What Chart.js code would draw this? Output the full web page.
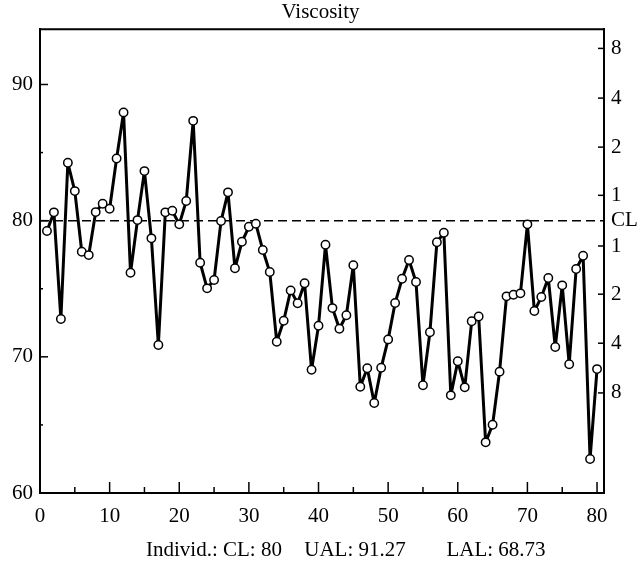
<!DOCTYPE html>
<html><head><meta charset="utf-8">
<script src="https://cdn.jsdelivr.net/npm/chart.js@4"></script>
<style>html,body{margin:0;padding:0;background:#fff}</style>
</head><body>
<canvas id="c" width="641" height="562"></canvas>
<script>
const titleText = "Viscosity";
const sampleIndex = [];
for (let i = 1; i <= 80; i++) sampleIndex.push(i);
const viscosity = [
  79.24, 80.61, 72.78, 84.25, 82.17, 77.72, 77.47, 80.63, 81.24, 80.87,
  84.57, 87.95, 76.17, 80.04, 83.64, 78.70, 70.87, 80.61, 80.73, 79.73,
  81.44, 87.33, 76.91, 75.03, 75.64, 79.97, 82.08, 76.50, 78.45, 79.55,
  79.77, 77.84, 76.23, 71.11, 72.65, 74.88, 73.93, 75.40, 69.05, 72.28,
  78.23, 73.58, 72.06, 73.05, 76.72, 67.80, 69.16, 66.61, 69.20, 71.28,
  73.95, 75.73, 77.11, 75.49, 67.91, 71.80, 78.41, 79.11, 67.17, 69.67,
  67.76, 72.61, 72.96, 63.72, 65.01, 68.91, 74.44, 74.56, 74.66, 79.73,
  73.36, 74.39, 75.79, 70.72, 75.25, 69.45, 76.45, 77.42, 62.50, 69.10
];
const centerLine = 80;
const xRange = [0, 81];
const yRange = [60, 94.06];
const xTicks = [0, 10, 20, 30, 40, 50, 60, 70, 80];
const xMinorTicks = [5, 15, 25, 35, 45, 55, 65, 75];
const yTicks = [60, 70, 80, 90];
const yMinorTicks = [65, 75, 85];
const rightTickValues = [67.35, 71.0, 74.6, 78.14, 80, 81.86, 85.4, 89.0, 92.65];
const rightTickLabels = ["8", "4", "2", "1", "CL", "1", "2", "4", "8"];
const footerLabels = ["Individ.: CL: 80", "UAL: 91.27", "LAL: 68.73"];

const FONT = "'Liberation Serif', 'Times New Roman', serif";
Chart.defaults.font.family = FONT;
Chart.defaults.color = '#000';

const points = sampleIndex.map((x, i) => ({x: x, y: viscosity[i]}));
const clLine = xRange.map(x => ({x: x, y: centerLine}));

const frameTicks = {
  id: 'frameTicks',
  afterDraw(chart) {
    const {ctx, chartArea: a, scales} = chart;
    const x = scales.x, y = scales.y, y2 = scales.y2;
    ctx.save();
    ctx.strokeStyle = '#000';
    const seg = (x1, y1, x2, y2_) => { ctx.beginPath(); ctx.moveTo(x1, y1); ctx.lineTo(x2, y2_); ctx.stroke(); };
    ctx.lineWidth = 2;
    seg(a.left - 1, a.top, a.right + 1, a.top);
    ctx.lineWidth = 1.5;
    xTicks.forEach(v => { const p = x.getPixelForValue(v); seg(p, a.bottom, p, a.bottom - 11); });
    xMinorTicks.forEach(v => { const p = x.getPixelForValue(v); seg(p, a.bottom, p, a.bottom - 6); });
    yTicks.forEach(v => { const p = y.getPixelForValue(v); seg(a.left, p, a.left + 8, p); });
    yMinorTicks.forEach(v => { const p = y.getPixelForValue(v); seg(a.left, p, a.left + 3, p); });
    rightTickValues.forEach((v, i) => { if (rightTickLabels[i] === 'CL') return; const p = y2.getPixelForValue(v); seg(a.right - 6, p, a.right, p); });
    ctx.fillStyle = '#000';
    ctx.font = '21px ' + FONT;
    ctx.textAlign = 'center';
    ctx.textBaseline = 'middle';
    const fx = [214, 355, 496];
    footerLabels.forEach((t, i) => ctx.fillText(t, fx[i], 550));
    ctx.restore();
  }
};

new Chart(document.getElementById('c'), {
  type: 'line',
  data: {
    datasets: [
      {
        data: clLine, borderColor: '#000', borderWidth: 1.5, borderDash: [9, 5],
        pointRadius: 0, pointHoverRadius: 0, fill: false, order: 2
      },
      {
        data: points, borderColor: '#000', borderWidth: 3, tension: 0,
        borderJoinStyle: 'round', borderCapStyle: 'round',
        pointRadius: 4.2, pointBackgroundColor: '#fff', pointBorderColor: '#000',
        pointBorderWidth: 1.5, fill: false, order: 1
      }
    ]
  },
  options: {
    responsive: false,
    animation: false,
    events: [],
    layout: {padding: 0},
    plugins: {
      legend: {display: false},
      tooltip: {enabled: false},
      title: {
        display: true, text: titleText, color: '#000',
        font: {family: FONT, size: 21, weight: 'normal'},
        padding: {top: 0, bottom: 4}
      }
    },
    scales: {
      x: {
        type: 'linear', position: 'bottom', min: xRange[0], max: xRange[1],
        grid: {display: false, drawTicks: false, tickLength: 0},
        border: {display: true, color: '#000', width: 2},
        ticks: {font: {size: 21}, color: '#000', padding: 11, maxRotation: 0, autoSkip: false},
        afterBuildTicks: s => { s.ticks = xTicks.map(v => ({value: v})); },
        afterFit: s => { s.height = 69; }
      },
      y: {
        type: 'linear', position: 'left', min: yRange[0], max: yRange[1],
        grid: {display: false, drawTicks: false, tickLength: 0},
        border: {display: true, color: '#000', width: 2},
        ticks: {font: {size: 21}, color: '#000', padding: 7, autoSkip: false},
        afterBuildTicks: s => { s.ticks = yTicks.map(v => ({value: v})); },
        afterFit: s => { s.width = 40; }
      },
      y2: {
        type: 'linear', position: 'right', min: yRange[0], max: yRange[1],
        grid: {display: false, drawTicks: false, tickLength: 0},
        border: {display: true, color: '#000', width: 2},
        ticks: {font: {size: 21}, color: '#000', padding: 7, autoSkip: false,
          callback: (v, i) => rightTickLabels[i]},
        afterBuildTicks: s => { s.ticks = rightTickValues.map(v => ({value: v})); },
        afterFit: s => { s.width = 37; }
      }
    }
  },
  plugins: [frameTicks]
});
</script>
</body></html>
